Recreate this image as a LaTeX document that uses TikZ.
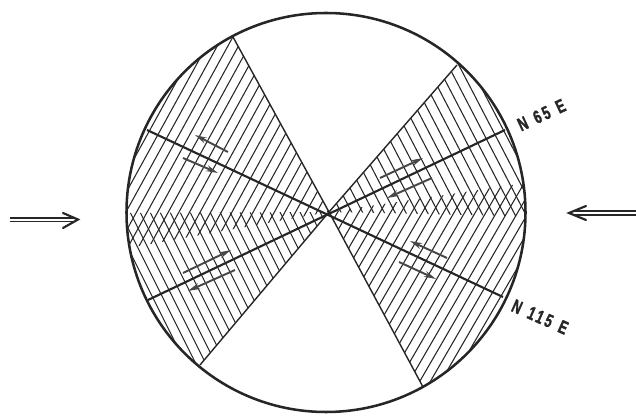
\documentclass[tikz,border=0pt]{standalone}
\usepackage{fontspec}
\setmainfont{Liberation Sans}
\newfontfamily\labfont[FakeStretch=0.68,FakeBold=1.5,LetterSpace=14,WordSpace=1.3]{Liberation Sans Bold}
\usetikzlibrary{arrows.meta}
\definecolor{ink}{HTML}{262626}
\tikzset{
  rim/.style={draw=ink,line width=1.9pt},
  hatch/.style={draw=ink,line width=0.8pt},
  bound/.style={draw=ink,line width=1.05pt},
  fault/.style={draw=ink,line width=1.6pt},
  slip/.style={draw=ink!85,line width=1.45pt,-{Stealth[length=9pt,width=4.5pt]}},
  stress/.style={draw=ink,line width=1.35pt},
  barb/.style={draw=ink,line width=1.6pt,line join=miter,line cap=round},
  lab/.style={text=ink,font=\labfont\fontsize{14}{15}\selectfont,inner sep=0pt}
}
\newcommand{\hatchset}[4]{% start x at y=212, signed slope dx/dy, spacing, count
  \foreach \k in {0,...,#4}{
    \pgfmathsetmacro{\xk}{#1+\k*#3}
    \pgfmathsetmacro{\xa}{\xk-260*(#2)}
    \pgfmathsetmacro{\xb}{\xk+260*(#2)}
    \draw[hatch] (\xa,-48) -- (\xb,472);
  }}
\begin{document}
\begin{tikzpicture}[x=0.75pt,y=-0.75pt]
\useasboundingbox (0,0) rectangle (636,416);
\coordinate (C) at (329,212);
\coordinate (O) at (326,212.5);
\coordinate (TL) at (233,37);
\coordinate (TR) at (457,65);
\coordinate (BL) at (200,365);
\coordinate (BR) at (423,387);
\coordinate (F1a) at (148,300);
\coordinate (F1b) at (505,130);
\coordinate (F2a) at (147,130);
\coordinate (F2b) at (503,297);
% upper-left hatching
\begin{scope}
  \clip (O) circle [x radius=199,y radius=199];
  \clip (C) -- (TL) -- (233,0) -- (100,0) -- (100,253) -- cycle;
  \hatchset{20}{-0.55}{10.6}{40}
\end{scope}
% lower-left hatching
\begin{scope}
  \clip (O) circle [x radius=199,y radius=199];
  \clip (C) -- (BL) -- (200,416) -- (100,416) -- (100,213) -- cycle;
  \hatchset{20}{0.5}{10}{40}
\end{scope}
% upper-right hatching
\begin{scope}
  \clip (O) circle [x radius=199,y radius=199];
  \clip (C) -- (TR) -- (457,0) -- (560,0) -- (560,217) -- cycle;
  \hatchset{330}{0.52}{10.8}{40}
\end{scope}
% lower-right hatching
\begin{scope}
  \clip (O) circle [x radius=199,y radius=199];
  \clip (C) -- (BR) -- (423,416) -- (560,416) -- (560,178) -- cycle;
  \hatchset{200}{-0.58}{10.6}{50}
\end{scope}
% sector edges
\draw[bound] (C) -- (TL);
\draw[bound] (C) -- (TR);
\draw[bound] (C) -- (BL);
\draw[bound] (C) -- (BR);
% faults
\draw[fault] (F1a) -- (F1b);
\draw[fault] (F2a) -- (F2b);
% circle
\draw[rim] (O) circle [x radius=199.5,y radius=199.5];
% slip arrows
\coordinate (a1) at (228,152); \coordinate (a2) at (195,135);
\coordinate (b1) at (183,158); \coordinate (b2) at (218,173);
\coordinate (c1) at (380,178); \coordinate (c2) at (423,158);
\coordinate (d1) at (432,178); \coordinate (d2) at (387,198);
\coordinate (e1) at (183,273); \coordinate (e2) at (231,250);
\coordinate (f1) at (235,270); \coordinate (f2) at (188,291);
\coordinate (g1) at (447,258); \coordinate (g2) at (410,241);
\coordinate (h1) at (399,262); \coordinate (h2) at (436,279);
\foreach \p/\q in {a1/a2,b1/b2,c1/c2,d1/d2,e1/e2,f1/f2,g1/g2,h1/h2}
  \draw[slip] (\p) -- (\q);
% compression arrows
\coordinate (L1a) at (10,218); \coordinate (L2a) at (74,218);
\coordinate (L1b) at (10,221.5); \coordinate (L2b) at (74,221.5);
\coordinate (Lt) at (78,219.5); \coordinate (Lu) at (63,213); \coordinate (Ld) at (63,228);
\draw[stress] (L1a) -- (L2a);
\draw[stress] (L1b) -- (L2b);
\draw[barb] (Lu) -- (Lt) -- (Ld);
\coordinate (R1a) at (636,211); \coordinate (R2a) at (573,211);
\coordinate (R1b) at (636,215); \coordinate (R2b) at (573,215);
\coordinate (Rt) at (569,213); \coordinate (Ru) at (586,206); \coordinate (Rd) at (586,220);
\draw[stress] (R1a) -- (R2a);
\draw[stress] (R1b) -- (R2b);
\draw[barb] (Ru) -- (Rt) -- (Rd);
% labels
\node[lab,rotate=25] (n65) at (541.5,115) {N 65 E};
\node[lab,rotate=-24] (n115) at (540,317) {N 115 E};
\end{tikzpicture}
\end{document}
